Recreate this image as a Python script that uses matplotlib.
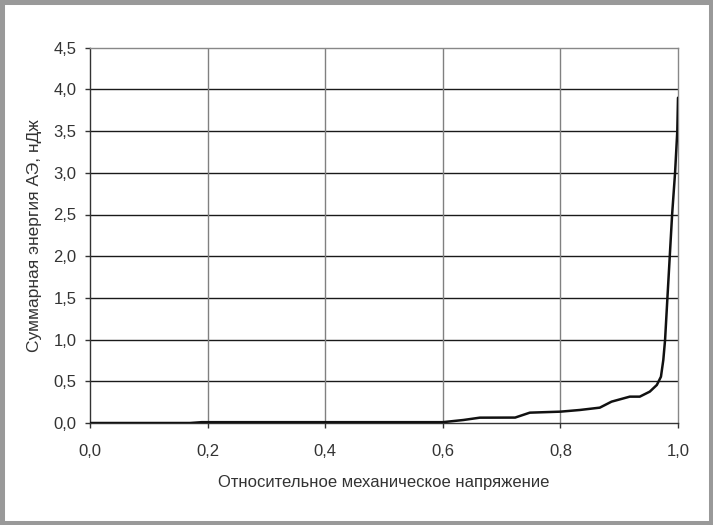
import matplotlib
matplotlib.use("Agg")
import matplotlib.pyplot as plt
from matplotlib.patches import Rectangle
from matplotlib.ticker import FuncFormatter

# Data
stress = [0.0, 0.17, 0.19, 0.60, 0.635, 0.663, 0.723, 0.748, 0.80, 0.833,
          0.867, 0.887, 0.918, 0.935, 0.952, 0.964, 0.971, 0.975, 0.978,
          0.982, 0.986, 0.990, 0.995, 0.9988, 1.0]
energy = [0.0, 0.0, 0.01, 0.01, 0.036, 0.064, 0.065, 0.124, 0.136, 0.156,
          0.184, 0.256, 0.316, 0.316, 0.376, 0.456, 0.555, 0.755, 0.995,
          1.5, 2.0, 2.5, 3.0, 3.5, 3.9]
x_ticks = [0.0, 0.2, 0.4, 0.6, 0.8, 1.0]
y_ticks = [0.0, 0.5, 1.0, 1.5, 2.0, 2.5, 3.0, 3.5, 4.0, 4.5]
x_label = "Относительное механическое напряжение"
y_label = "Суммарная энергия АЭ, нДж"

plt.rcParams['font.family'] = ['Liberation Sans', 'DejaVu Sans']

W, H = 713, 525
fig = plt.figure(figsize=(W / 100, H / 100), dpi=100)
fig.patch.set_facecolor('white')

ax = fig.add_axes([90 / W, (H - 423) / H, (678 - 90) / W, (423 - 47.7) / H])

ax.plot(stress, energy, color='#111111', lw=1.8, solid_joinstyle='round',
        solid_capstyle='round', zorder=3)

ax.set_xlim(0, 1.0)
ax.set_ylim(0, 4.5)
ax.set_xticks(x_ticks)
ax.set_yticks(y_ticks)
fmt = FuncFormatter(lambda v, p: f"{v:.1f}".replace('.', ','))
ax.xaxis.set_major_formatter(fmt)
ax.yaxis.set_major_formatter(fmt)

for yv in y_ticks[1:-1]:
    ax.axhline(yv, color='#1a1a1a', lw=1.0, zorder=1)
for xv in x_ticks[1:-1]:
    ax.axvline(xv, color='#808080', lw=1.0, zorder=1)

ax.spines['left'].set_color('#333333')
ax.spines['bottom'].set_color('#333333')
ax.spines['top'].set_color('#888888')
ax.spines['right'].set_color('#888888')
for s in ax.spines.values():
    s.set_linewidth(1.0)

ax.tick_params(axis='both', direction='out', length=3.6, width=1.0,
               colors='#333333', labelsize=12, labelcolor='#333333')
ax.tick_params(axis='x', pad=11.8)
ax.tick_params(axis='y', pad=6)

ax.set_xlabel(x_label, fontsize=12, color='#333333', labelpad=11.5)
ax.set_ylabel(y_label, fontsize=12.5, color='#333333', labelpad=8)

fig.patches.append(Rectangle((0, 0), 1, 1, transform=fig.transFigure,
                             fill=False, edgecolor='#999999', lw=6.5, zorder=10))

fig.savefig('out.png', dpi=100, facecolor='white')
